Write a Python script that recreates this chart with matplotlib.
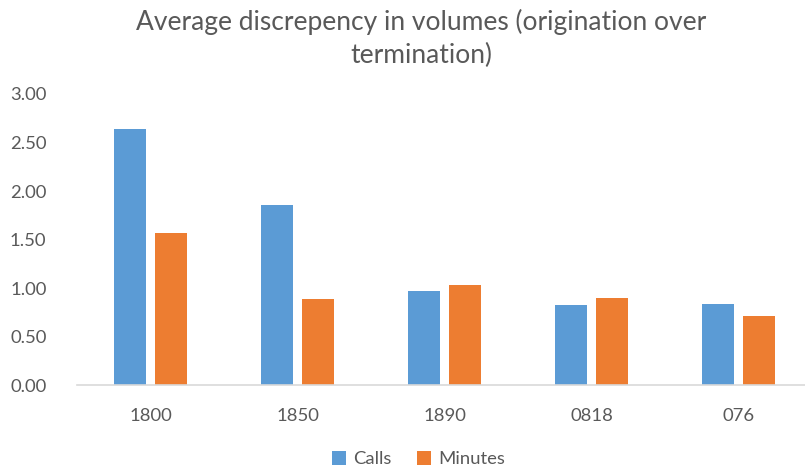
import matplotlib.pyplot as plt
import numpy as np

# Average discrepancy, origination over termination
codes = ['1800', '1850', '1890', '0818', '076']
calls = [2.64, 1.86, 0.97, 0.83, 0.84]
minutes = [1.57, 0.89, 1.03, 0.90, 0.71]
yticks = [0.0, 0.5, 1.0, 1.5, 2.0, 2.5, 3.0]

blue = '#5B9BD5'
orange = '#ED7D31'
grey_txt = '#595959'

plt.rcParams['font.family'] = ['Lato', 'DejaVu Sans']

fig = plt.figure(figsize=(8.05, 4.71), dpi=100)
ax = fig.add_axes([77 / 805, 0.182, 735 / 805, 0.6185])

x = np.arange(len(codes))
w = 0.22
off = 0.1415
ax.bar(x - off, calls, width=w, color=blue, label='Calls')
ax.bar(x + off, minutes, width=w, color=orange, label='Minutes')

ax.set_xlim(-0.5, len(codes) - 0.5)
ax.set_ylim(0, 3)
ax.set_yticks(yticks)
ax.set_yticklabels([f'{v:.2f}' for v in yticks])
ax.set_xticks(x)
ax.set_xticklabels(codes)

for s in ['top', 'right', 'left']:
    ax.spines[s].set_visible(False)
ax.spines['bottom'].set_color('#D9D9D9')
ax.spines['bottom'].set_linewidth(1.2)
ax.tick_params(axis='both', length=0, labelsize=13.3, colors=grey_txt)
ax.tick_params(axis='y', pad=22)
ax.tick_params(axis='x', pad=16)

fig.text(0.523, 0.918, 'Average discrepency in volumes (origination over\ntermination)',
         ha='center', va='center', fontsize=19, color=grey_txt, linespacing=1.4)

fig.legend(loc='center', bbox_to_anchor=(0.52, 0.025), ncol=2, frameon=False,
           fontsize=13.3, labelcolor=grey_txt, handlelength=0.75, handleheight=0.75,
           handletextpad=0.4, columnspacing=1.4)

fig.savefig('out.png', dpi=100)
